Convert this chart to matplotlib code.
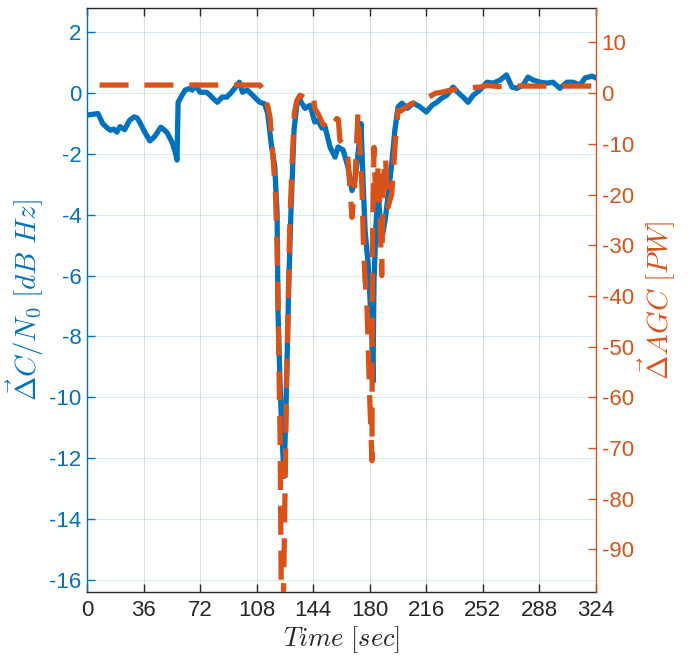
import matplotlib
matplotlib.use("Agg")
import matplotlib.pyplot as plt
import numpy as np

plt.rcParams['font.family'] = ['Liberation Sans', 'DejaVu Sans']
plt.rcParams['mathtext.fontset'] = 'cm'
plt.rcParams['axes.unicode_minus'] = False

BLUE = '#0072BD'
ORANGE = '#D95319'

# C/N0 change (left axis, dB Hz)
t_cn0 = [0, 3, 7, 10, 13, 15, 17, 19, 21, 24, 27, 30, 32, 34, 37, 40, 43, 47, 49, 51,
         54, 56, 57.3, 58, 60.5, 62.5, 65.5, 67, 69, 72, 76, 78, 80, 83, 86, 89, 92, 95.5,
         97, 99, 102, 105.5, 108, 110, 113, 115, 117.5, 119.5, 121, 121.6, 122.8, 124,
         125.4, 126.6, 127.3, 128.5, 129.8, 131, 131.8, 133.7, 135.6, 137, 138.8, 142,
         145, 147, 149.6, 151.5, 154.7, 157.9, 159.8, 163, 166, 168.7, 170.6, 172.5,
         174.4, 175.7, 177, 178.9, 180, 181.4, 182, 182.7, 184, 185.2, 186.5, 188, 189.7,
         191.6, 194, 196, 198, 200.5, 203.7, 207.7, 212, 216, 219.6, 222.7, 225.8, 229,
         233, 236, 239.4, 242.6, 245.8, 250, 254.6, 258.5, 263, 267, 270.5, 273.7, 277.5,
         280.7, 284, 288.4, 292.8, 296.6, 301, 305.5, 309.4, 313.8, 317, 321.5, 324]
cn0 = [-0.72, -0.7, -0.67, -1.0, -1.15, -1.22, -1.18, -1.28, -1.1, -1.2, -0.9, -0.78, -0.82,
       -1.0, -1.3, -1.57, -1.43, -1.12, -1.2, -1.3, -1.6, -1.9, -2.2, -0.3, -0.07, 0.1, 0.16,
       0.1, 0.26, 0.03, 0.03, -0.05, -0.16, -0.3, -0.13, -0.13, 0.03, 0.26, 0.36, 0.03, 0.1,
       -0.07, -0.2, -0.3, -0.35, -0.66, -1.77, -2.4, -3.95, -7.2, -9.4, -11.1, -12.6, -10.5,
       -8.9, -6.15, -3.95, -2.3, -1.2, -0.33, -0.23, -0.35, -0.5, -0.4, -0.95, -0.9, -1.15,
       -1.1, -1.77, -2.1, -1.77, -1.87, -2.4, -3.2, -2.85, -2.0, -1.0, -2.85, -4.5, -5.6,
       -6.6, -8.1, -9.5, -6.15, -4.3, -3.2, -4.1, -4.7, -4.2, -3.4, -2.3, -1.2, -0.45, -0.33,
       -0.5, -0.33, -0.45, -0.62, -0.4, -0.3, -0.16, -0.07, 0.2, 0.03, -0.13, -0.3, -0.07,
       0.1, 0.36, 0.33, 0.43, 0.6, 0.2, 0.16, 0.26, 0.53, 0.43, 0.36, 0.33, 0.36, 0.16, 0.36,
       0.36, 0.26, 0.5, 0.56, 0.5]

# AGC change (right axis, PW)
t_agc = [8, 98, 110, 111.5, 113, 115, 116.5, 118.5, 120, 121, 122, 123, 124, 125, 126, 127,
         128, 129, 130.5, 132, 133.5, 135.6, 138, 140, 142, 144, 145, 147, 150, 152, 154.7,
         157, 159, 160, 161, 163, 166, 168.7, 170.6, 172.5, 175, 176, 177, 178, 179, 180,
         181.4, 181.7, 182.7, 184, 185.4, 187.6, 188.6, 190, 191.6, 194, 196, 198, 200, 204,
         207, 212, 216, 222, 226, 230, 240, 250, 255, 262, 270, 324]
agc = [1.6, 1.6, 1.6, 1.0, -1, -2.5, -4.7, -13, -20, -30, -50, -70, -115, -100, -80, -57,
       -43, -27, -14, -4, -1.5, -0.4, -0.8, -0.6, -0.2, -0.4, -3, -4, -6, -6.5, -7.3, -6, -5,
       -5.2, -9.3, -10, -12.6, -24.5, -17, -3.8, -18.5, -30, -37, -40, -50, -60.6, -72.5,
       -30, -10.7, -22.5, -13.8, -36, -17, -12.6, -22.5, -19.8, -10.7, -3.4, -3.5, -2.5, -2,
       -1.7, -1, 0, 0.2, 0.5, 1.0, 1.2, 1.5, 1.3, 1.4, 1.4]

xticks = [0, 36, 72, 108, 144, 180, 216, 252, 288, 324]
left_ticks = [-16, -14, -12, -10, -8, -6, -4, -2, 0, 2]
right_ticks = [-90, -80, -70, -60, -50, -40, -30, -20, -10, 0, 10]

fig = plt.figure(figsize=(6.92, 6.56), dpi=100)
ax = fig.add_axes([0.1257, 0.0976, 0.7356, 0.8902])
ax2 = ax.twinx()

ax.plot(t_cn0, cn0, color=BLUE, lw=3.8, solid_joinstyle='round', zorder=2)
ax2.plot(t_agc, agc, color=ORANGE, lw=3.8, linestyle=(0, (5.5, 3.0)), zorder=3)

ax.set_xlim(0, 324)
ax.set_ylim(-16.4, 2.8)
ax2.set_ylim(-98.4, 16.8)

ax.set_xticks(xticks)
ax.set_xticklabels([str(v) for v in xticks])
ax.set_yticks(left_ticks)
ax.set_yticklabels([str(v) for v in left_ticks])
ax2.set_yticks(right_ticks)
ax2.set_yticklabels([str(v) for v in right_ticks])

# grid
ax.set_axisbelow(True)
for xv in xticks[1:-1]:
    ax.axvline(xv, color='#262626', alpha=0.15, lw=0.8, zorder=0)
for yv in left_ticks:
    ax.axhline(yv, color=BLUE, alpha=0.15, lw=0.8, zorder=0)

# spines & ticks
dark = '#262626'
ax.spines['left'].set_color(BLUE)
ax.spines['right'].set_visible(False)
ax.spines['top'].set_color(dark)
ax.spines['bottom'].set_color(dark)
ax2.spines['right'].set_color(ORANGE)
ax2.spines['left'].set_visible(False)
ax2.spines['top'].set_visible(False)
ax2.spines['bottom'].set_visible(False)
for s in list(ax.spines.values()) + list(ax2.spines.values()):
    s.set_linewidth(1.0)

ax.tick_params(axis='x', direction='in', length=6, width=1.0, colors=dark,
               labelsize=16, top=True, pad=6, labelcolor=dark)
ax.tick_params(axis='y', direction='in', length=6, width=1.0, colors=BLUE,
               labelsize=16, pad=4)
ax2.tick_params(axis='y', direction='in', length=6, width=1.0, colors=ORANGE,
                labelsize=16, pad=4)

ax.set_xlabel(r'$Time\ [sec]$', fontsize=19, color=dark, labelpad=2)
ax.set_ylabel(r'$\vec{\Delta} C/N_0\ [dB\ Hz]$', fontsize=21, color=BLUE, labelpad=2)
ax2.set_ylabel(r'$\vec{\Delta} AGC\ [PW]$', fontsize=21, color=ORANGE, labelpad=2)

fig.savefig('out.png', dpi=100)
